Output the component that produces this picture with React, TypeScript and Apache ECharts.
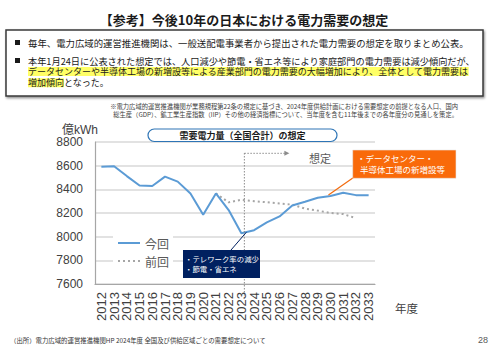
import React, { useEffect, useRef } from "react";
import * as echarts from "echarts";

const years = [
  "2012", "2013", "2014", "2015", "2016", "2017", "2018", "2019", "2020", "2021", "2022",
  "2023", "2024", "2025", "2026", "2027", "2028", "2029", "2030", "2031", "2032", "2033",
];
// 今回 (this time)
const currentForecast = [
  8590, 8595, 8512, 8432, 8428, 8507, 8465, 8365, 8185, 8365, 8225,
  8029, 8055, 8120, 8171, 8263, 8295, 8329, 8343, 8371, 8351, 8349,
];
// 前回 (previous)
const previousForecast = [
  null, null, null, null, null, null, null, null, null, 8365, 8290,
  8312, 8300, 8291, 8280, 8271, 8237, 8220, 8200, 8191, 8157, null,
];
const yMin = 7600;
const yMax = 8800;
const yInterval = 200;

const title = "【参考】今後10年の日本における電力需要の想定";
const bullet1 = "毎年、電力広域的運営推進機関は、一般送配電事業者から提出された電力需要の想定を取りまとめ公表。";
const bullet2a = "本年1月24日に公表された想定では、人口減少や節電・省エネ等により家庭部門の電力需要は減少傾向だが、";
const bullet2b = "データセンターや半導体工場の新増設等による産業部門の電力需要の大幅増加により、全体として電力需要は";
const bullet2cHi = "増加傾向";
const bullet2cRest = "となった。";
const note1 = "※電力広域的運営推進機関が業務規程第22条の規定に基づき、2024年度供給計画における需要想定の前提となる人口、国内";
const note2 = "総生産（GDP）、鉱工業生産指数（IIP）その他の経済指標について、当年度を含む11年後までの各年度分の見通しを策定。";
const chartTitle = "需要電力量（全国合計）の想定";
const source = "（出所）電力広域的運営推進機関HP 2024年度 全国及び供給区域ごとの需要想定について";

const JP = "'Noto Sans CJK JP', 'Liberation Sans', sans-serif";
const NUM = "'Liberation Sans', 'Noto Sans CJK JP', sans-serif";

export default function App() {
  const ref = useRef<HTMLDivElement>(null);
  useEffect(() => {
    const chart = echarts.init(ref.current!, null, { renderer: "svg", width: 491, height: 347 });
    chart.setOption({
      animation: false,
      backgroundColor: "#ffffff",
      grid: { left: 95, right: 116, top: 142, bottom: 63, containLabel: false },
      legend: {
        orient: "vertical",
        left: 113,
        top: 235,
        itemWidth: 22,
        itemHeight: 12,
        itemGap: 6,
        padding: [2, 4, 2, 4],
        backgroundColor: "#ffffff",
        data: ["今回", "前回"],
        itemStyle: { opacity: 0 },
        textStyle: { fontSize: 12, color: "#595959", fontFamily: JP },
      },
      xAxis: {
        type: "category",
        data: years,
        boundaryGap: true,
        axisLine: { lineStyle: { color: "#A6A6A6", width: 1.2 } },
        axisTick: { show: false },
        axisLabel: {
          rotate: 90,
          interval: 0,
          margin: 8,
          fontSize: 13,
          color: "#404040",
          fontFamily: NUM,
        },
      },
      yAxis: {
        type: "value",
        min: yMin,
        max: yMax,
        interval: yInterval,
        axisLine: { show: true, lineStyle: { color: "#A6A6A6", width: 1.2 } },
        axisTick: { show: false },
        axisLabel: {
          fontSize: 12,
          color: "#404040",
          margin: 12,
          fontFamily: NUM,
          formatter: (v: number) => String(v),
        },
        splitLine: { lineStyle: { color: "#D9D9D9", width: 1.6 } },
      },
      series: [
        {
          name: "今回",
          type: "line",
          data: currentForecast,
          symbol: "none",
          lineStyle: { color: "#5B9BD5", width: 2 },
          itemStyle: { color: "#5B9BD5" },
          z: 3,
        },
        {
          name: "前回",
          type: "line",
          data: previousForecast,
          symbol: "none",
          connectNulls: false,
          lineStyle: { color: "#A6A6A6", width: 2, type: [2, 3] },
          itemStyle: { color: "#A6A6A6" },
          z: 2,
        },
      ],
    });

    const p2023 = chart.convertToPixel({ gridIndex: 0 }, [years[11], currentForecast[11]]) as number[];
    const p2030 = chart.convertToPixel({ gridIndex: 0 }, [years[18], currentForecast[18]]) as number[];
    const vx = p2023[0] + 3;

    const hl = { backgroundColor: "#FFFF66", fill: "#1a1a1a" };

    chart.setOption({
      graphic: [
        // header title
        {
          type: "text", x: 244, y: 19,
          style: { text: title, fill: "#1a1a1a", fontSize: 13, fontWeight: "bold", fontFamily: JP, textAlign: "center", textVerticalAlign: "middle" },
        },
        // header box
        {
          type: "rect", shape: { x: 6, y: 30, width: 477, height: 66 },
          style: { fill: "#ffffff", stroke: "#3a3a3a", lineWidth: 1.5, shadowBlur: 2, shadowOffsetX: 1, shadowOffsetY: 1.5, shadowColor: "rgba(0,0,0,0.45)" },
          z: 1,
        },
        { type: "rect", shape: { x: 15, y: 40, width: 5, height: 5 }, style: { fill: "#1a1a1a" }, z: 2 },
        { type: "rect", shape: { x: 15, y: 58, width: 5, height: 5 }, style: { fill: "#1a1a1a" }, z: 2 },
        {
          type: "text", x: 28, y: 42.5, z: 2,
          style: { text: bullet1, fill: "#1a1a1a", fontSize: 9.4, fontFamily: JP, textVerticalAlign: "middle" },
        },
        {
          type: "text", x: 28, y: 60.5, z: 2,
          style: { text: bullet2a, fill: "#1a1a1a", fontSize: 9.2, fontFamily: JP, textVerticalAlign: "middle" },
        },
        {
          type: "text", x: 28, y: 71.6, z: 2,
          style: {
            text: "{h|" + bullet2b + "}", fontSize: 9.0, fontFamily: JP, textVerticalAlign: "middle",
            rich: { h: { ...hl, fontSize: 9.0, fontFamily: JP, lineHeight: 10 } },
          },
        },
        {
          type: "text", x: 28, y: 82.7, z: 2,
          style: {
            text: "{h|" + bullet2cHi + "}{n|" + bullet2cRest + "}", fontSize: 9.0, fontFamily: JP, textVerticalAlign: "middle",
            rich: {
              h: { ...hl, fontSize: 9.0, fontFamily: JP, lineHeight: 10 },
              n: { fill: "#1a1a1a", fontSize: 9.0, fontFamily: JP, lineHeight: 10 },
            },
          },
        },
        // note
        {
          type: "text", x: 458, y: 106,
          style: { text: note1, fill: "#404040", fontSize: 6.3, fontFamily: JP, textAlign: "right", textVerticalAlign: "middle" },
        },
        {
          type: "text", x: 458, y: 114,
          style: { text: note2, fill: "#404040", fontSize: 6.3, fontFamily: JP, textAlign: "right", textVerticalAlign: "middle" },
        },
        // y axis unit
        {
          type: "text", x: 62, y: 129.5,
          style: { text: "億kWh", fill: "#404040", fontSize: 12, fontFamily: NUM, textVerticalAlign: "middle" },
        },
        // chart title pill
        {
          type: "rect", shape: { x: 148, y: 129, width: 189, height: 12.5, r: 6.25 },
          style: { fill: "#ffffff", stroke: "#2E75B6", lineWidth: 1.2 }, z: 20,
        },
        {
          type: "text", x: 242.5, y: 135.5, z: 21,
          style: { text: chartTitle, fill: "#1a1a1a", fontSize: 9, fontWeight: "bold", fontFamily: JP, textAlign: "center", textVerticalAlign: "middle" },
        },
        // forecast divider and arrow
        {
          type: "line", shape: { x1: vx, y1: 153, x2: vx, y2: 296 },
          style: { stroke: "#8c8c8c", lineWidth: 1, lineDash: [1.5, 1.5] }, z: 5,
        },
        {
          type: "line", shape: { x1: vx, y1: 153.3, x2: vx + 41, y2: 153.3 },
          style: { stroke: "#8c8c8c", lineWidth: 1, lineDash: [1.5, 1.5] }, z: 5,
        },
        {
          type: "polygon", shape: { points: [[vx + 40, 150.8], [vx + 45, 153.3], [vx + 40, 155.8]] },
          style: { fill: "#8c8c8c" }, z: 5,
        },
        {
          type: "text", x: 309, y: 157.5, z: 5,
          style: { text: "想定", fill: "#595959", fontSize: 11, fontFamily: JP, textVerticalAlign: "middle" },
        },
        // navy annotation
        {
          type: "line", shape: { x1: 231, y1: 250, x2: p2023[0] + 5, y2: p2023[1] - 1 },
          style: { stroke: "#002060", lineWidth: 1 }, z: 10,
        },
        {
          type: "rect", shape: { x: 183, y: 250, width: 77, height: 28 },
          style: { fill: "#002060" }, z: 10,
        },
        {
          type: "text", x: 185, y: 258.3, z: 11,
          style: { text: "・テレワーク率の減少", fill: "#ffffff", fontSize: 7.4, fontFamily: JP, textVerticalAlign: "middle" },
        },
        {
          type: "text", x: 185, y: 268, z: 11,
          style: { text: "・節電・省エネ", fill: "#ffffff", fontSize: 7.4, fontFamily: JP, textVerticalAlign: "middle" },
        },
        // orange annotation
        {
          type: "line", shape: { x1: 353.5, y1: 177.5, x2: p2030[0] - 2, y2: p2030[1] - 1 },
          style: { stroke: "#F26B0F", lineWidth: 1.2 }, z: 10,
        },
        {
          type: "rect", shape: { x: 352.7, y: 150, width: 103.3, height: 28.3 },
          style: { fill: "#F96A0A", stroke: "#E8E8E8", lineWidth: 0.6 }, z: 10,
        },
        {
          type: "text", x: 357, y: 157.5, z: 11,
          style: { text: "・データセンター・", fill: "#ffffff", fontSize: 8.5, fontFamily: JP, textVerticalAlign: "middle" },
        },
        {
          type: "text", x: 360, y: 169.3, z: 11,
          style: { text: "半導体工場の新増設等", fill: "#ffffff", fontSize: 8.5, fontFamily: JP, textVerticalAlign: "middle" },
        },
        // x axis unit
        {
          type: "text", x: 395, y: 308, z: 5,
          style: { text: "年度", fill: "#404040", fontSize: 11.5, fontFamily: JP, textVerticalAlign: "middle" },
        },
        // footer
        {
          type: "text", x: 10, y: 340,
          style: { text: source, fill: "#333333", fontSize: 6.4, fontFamily: JP, textVerticalAlign: "middle" },
        },
        {
          type: "text", x: 488, y: 340,
          style: { text: "28", fill: "#595959", fontSize: 9, fontFamily: NUM, textAlign: "right", textVerticalAlign: "middle" },
        },
      ],
    });
    return () => chart.dispose();
  }, []);
  return <div ref={ref} style={{ position: "absolute", left: 0, top: 0, width: 491, height: 347 }} />;
}
